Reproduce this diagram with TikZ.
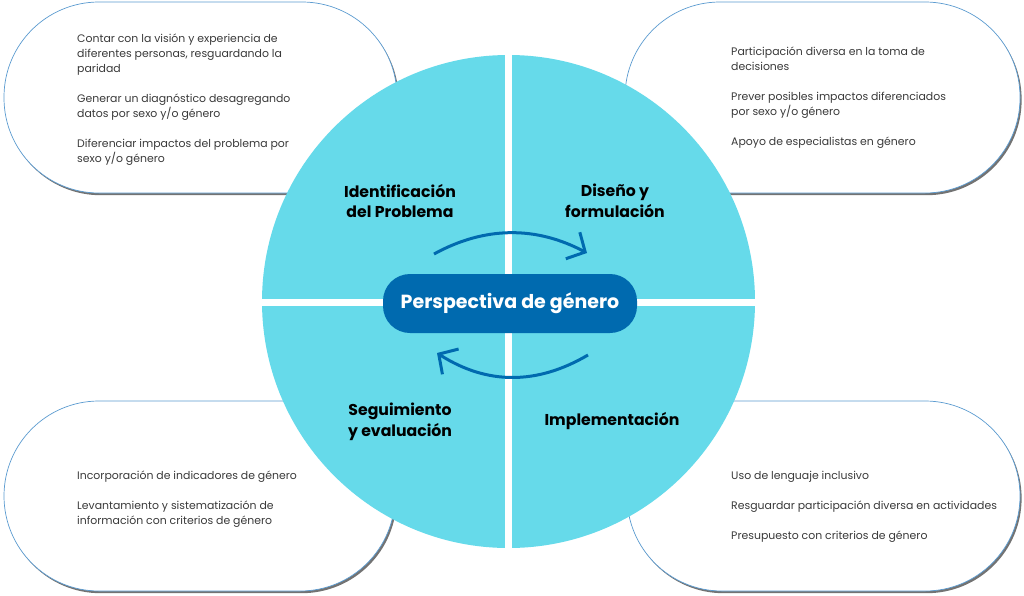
\documentclass[tikz,border=0pt]{standalone}
\usepackage{fontspec}
\setmainfont{Poppins}
\usetikzlibrary{arrows.meta}
\definecolor{cyanq}{HTML}{66DAEA}
\definecolor{dblue}{HTML}{006AAF}
\definecolor{pillline}{HTML}{5B9BD0}
\definecolor{bodytxt}{HTML}{3A3A3A}
\tikzset{
  pillshadow/.style={fill=black!55, rounded corners=95pt},
  pillbox/.style={fill=white, draw=pillline, line width=0.7pt, rounded corners=95pt},
  bodytext/.style={anchor=west, align=left, font=\fontsize{10.9}{15}\selectfont, text=bodytxt, inner sep=0pt},
  quadlabel/.style={align=center, font=\fontsize{15.7}{20.5}\selectfont\bfseries, text=black, inner sep=0pt},
  cyclearrow/.style={draw=dblue, line width=3pt, -{Straight Barb[length=14pt,width=30pt]}},
}
\begin{document}
\begin{tikzpicture}[x=1pt,y=-1pt]
\useasboundingbox (0,0) rectangle (1024,595);
% pills (behind circle)
\foreach \xa/\ya/\xb/\yb in {4/2/397/193, 625/2/1020/193, 4/401/395/591, 627/401/1020/591}{
  \fill[pillshadow] (\xa+1.6,\ya+2.2) rectangle (\xb+1.6,\yb+2.2);
  \filldraw[pillbox] (\xa,\ya) rectangle (\xb,\yb);
}
% circle
\fill[cyanq] (508.5,301.5) circle[radius=246.5];
\fill[white] (505,50) rectangle (512,553);
\fill[white] (257,298.8) rectangle (760,305.8);
% center
\node[fill=dblue, rounded corners=27pt, minimum width=254pt, minimum height=59pt, inner sep=0pt,
      text=white, font=\fontsize{19}{22}\selectfont\bfseries] (center) at (510,303.5) {Perspectiva de género};
% arrows
\coordinate (a1s) at (434,254);
\coordinate (a1e) at (587,253);
\coordinate (a2s) at (588,355);
\coordinate (a2e) at (437,353);
\draw[cyclearrow] (a1s) .. controls (485,226) and (536,226) .. (a1e);
\draw[cyclearrow] (a2s) .. controls (537,385) and (487,385) .. (a2e);
% quadrant labels
\node[quadlabel] (q1) at (400,201) {Identificación\\del Problema};
\node[quadlabel] (q2) at (615,201) {Diseño y\\formulación};
\node[quadlabel] (q3) at (400,422) {Seguimiento\\y evaluación};
\node[quadlabel] (q4) at (612,421) {Implementación};
% body texts
\node[bodytext] (t1) at (77,99.5) {Contar con la visión y experiencia de\\diferentes personas, resguardando la\\paridad\\[15pt]Generar un diagnóstico desagregando\\datos por sexo y/o género\\[15pt]Diferenciar impactos del problema por\\sexo y/o género};
\node[bodytext] (t2) at (731,97.5) {Participación diversa en la toma de\\decisiones\\[15pt]Prever posibles impactos diferenciados\\por sexo y/o género\\[15pt]Apoyo de especialistas en género};
\node[bodytext] (t3) at (77,499) {Incorporación de indicadores de género\\[15pt]Levantamiento y sistematización de\\información con criterios de género};
\node[bodytext] (t4) at (731,506.5) {Uso de lenguaje inclusivo\\[15pt]Resguardar participación diversa en actividades\\[15pt]Presupuesto con criterios de género};
\end{tikzpicture}
\end{document}
